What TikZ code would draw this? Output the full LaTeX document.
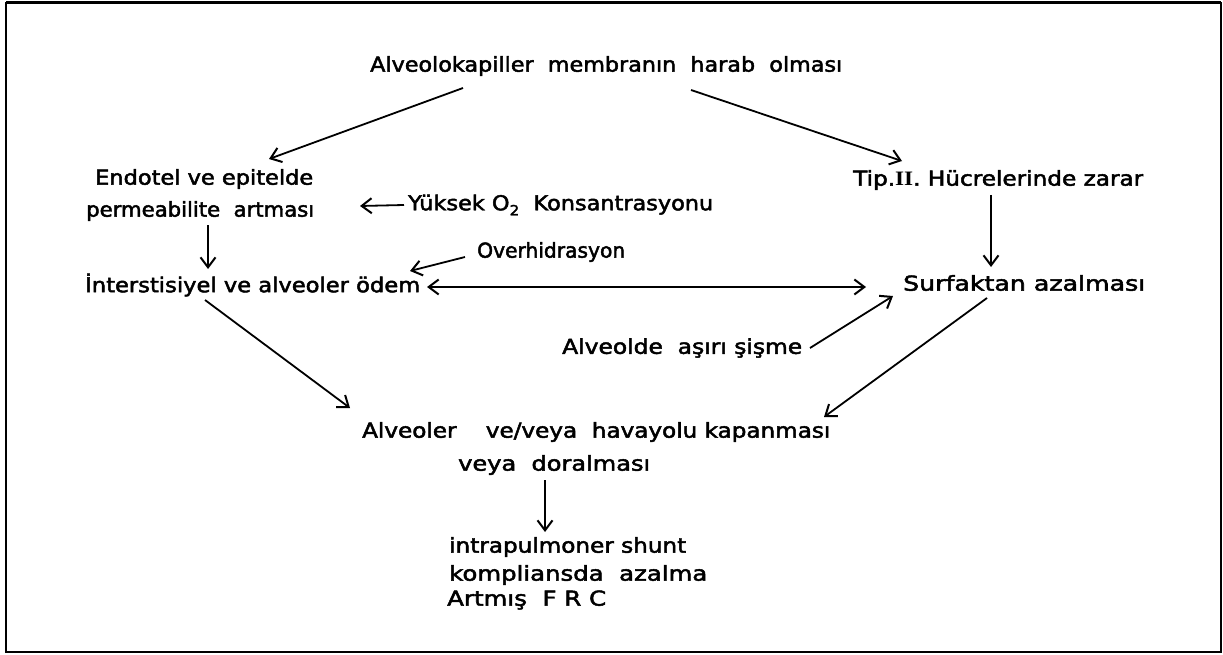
\documentclass[tikz,border=0pt]{standalone}
\usepackage{fontspec}
\setmainfont{DejaVu Sans}[FakeBold=2.2]
\newfontfamily\romnum{Liberation Serif}
\usepackage{graphicx}
\usetikzlibrary{arrows.meta}
\newcommand\fitw[2]{\resizebox{#1pt}{\height}{#2}}
\tikzset{
  lbl/.style={anchor=west, inner sep=0pt, font=\fontsize{20.5}{23}\selectfont},
  barb/.tip={Straight Barb[length=10pt,width=15pt,line width=2pt]},
  arr/.style={-barb, line width=1.8pt},
  darr/.style={barb-barb, line width=1.8pt},
  frame/.style={line width=2pt}
}
\begin{document}
\begin{tikzpicture}[x=1pt,y=-1pt]
\useasboundingbox (0,0) rectangle (1223,655);
\draw[frame] (6,3) rectangle (1221,652);
\draw[line width=3pt] (6,3) -- (1221,3);

\node[lbl] (title) at (370,66) {\fitw{472}{Alveolokapiller~~membranın~~harab~~olması}};
\node[lbl] (endo)  at (95,179) {\fitw{218}{Endotel~ve~epitelde}};
\node[lbl] (perm)  at (86,211) {\fitw{228}{permeabilite~~artması}};
\node[lbl] (yuk)   at (408,205) {\fitw{305}{Yüksek~O\raisebox{-0.45ex}{\fontsize{14}{14}\selectfont 2}~~Konsantrasyonu}};
\node[lbl] (tip)   at (853,180) {\fitw{290}{Tip.{\romnum\bfseries II}.~Hücrelerinde~zarar}};
\node[lbl] (over)  at (477,252) {\fitw{148}{Overhidrasyon}};
\node[lbl] (inter) at (85,285) {\fitw{335}{İnterstisiyel ve alveoler ödem}};
\node[lbl] (surf)  at (903,283) {\fitw{242}{Surfaktan~azalması}};
\node[lbl] (alv)   at (562,348) {\fitw{240}{Alveolde~~aşırı~şişme}};
\node[lbl] (kap)   at (362,432) {\fitw{468}{Alveoler~~~~ve/veya~~havayolu~kapanması}};
\node[lbl] (dar)   at (458,465) {\fitw{192}{veya~~doralması}};
\node[lbl] (intra) at (449,547) {\fitw{237}{intrapulmoner shunt}};
\node[lbl] (komp)  at (449,575) {\fitw{258}{kompliansda~~azalma}};
\node[lbl] (artm)  at (447,600) {\fitw{159}{Artmış~~F~R~C}};

\draw[arr] ([shift={(93,22)}]title.west) -- ([shift={(174,-20)}]endo.west);
\draw[arr] ([shift={(321,24)}]title.west) -- ([shift={(49,-19)}]tip.west);
\draw[arr] ([shift={(-4,0)}]yuk.west) -- ([shift={(274,-5)}]perm.west);
\draw[arr] ([shift={(122,14)}]perm.west) -- ([shift={(123,-16)}]inter.west);
\draw[arr] ([shift={(138,15)}]tip.west) -- ([shift={(88,-16)}]surf.west);
\draw[arr] ([shift={(-12,5)}]over.west) -- ([shift={(325,-14)}]inter.west);
\draw[darr] ([shift={(342,2)}]inter.west) -- ([shift={(-37,4)}]surf.west);
\draw[arr] ([shift={(248,0)}]alv.west) -- ([shift={(-10,13)}]surf.west);
\draw[arr] ([shift={(84,15)}]surf.west) -- ([shift={(462,-15)}]kap.west);
\draw[arr] ([shift={(120,15)}]inter.west) -- ([shift={(-12,-24)}]kap.west);
\draw[arr] ([shift={(87,15)}]dar.west) -- ([shift={(96,-15)}]intra.west);
\end{tikzpicture}
\end{document}
